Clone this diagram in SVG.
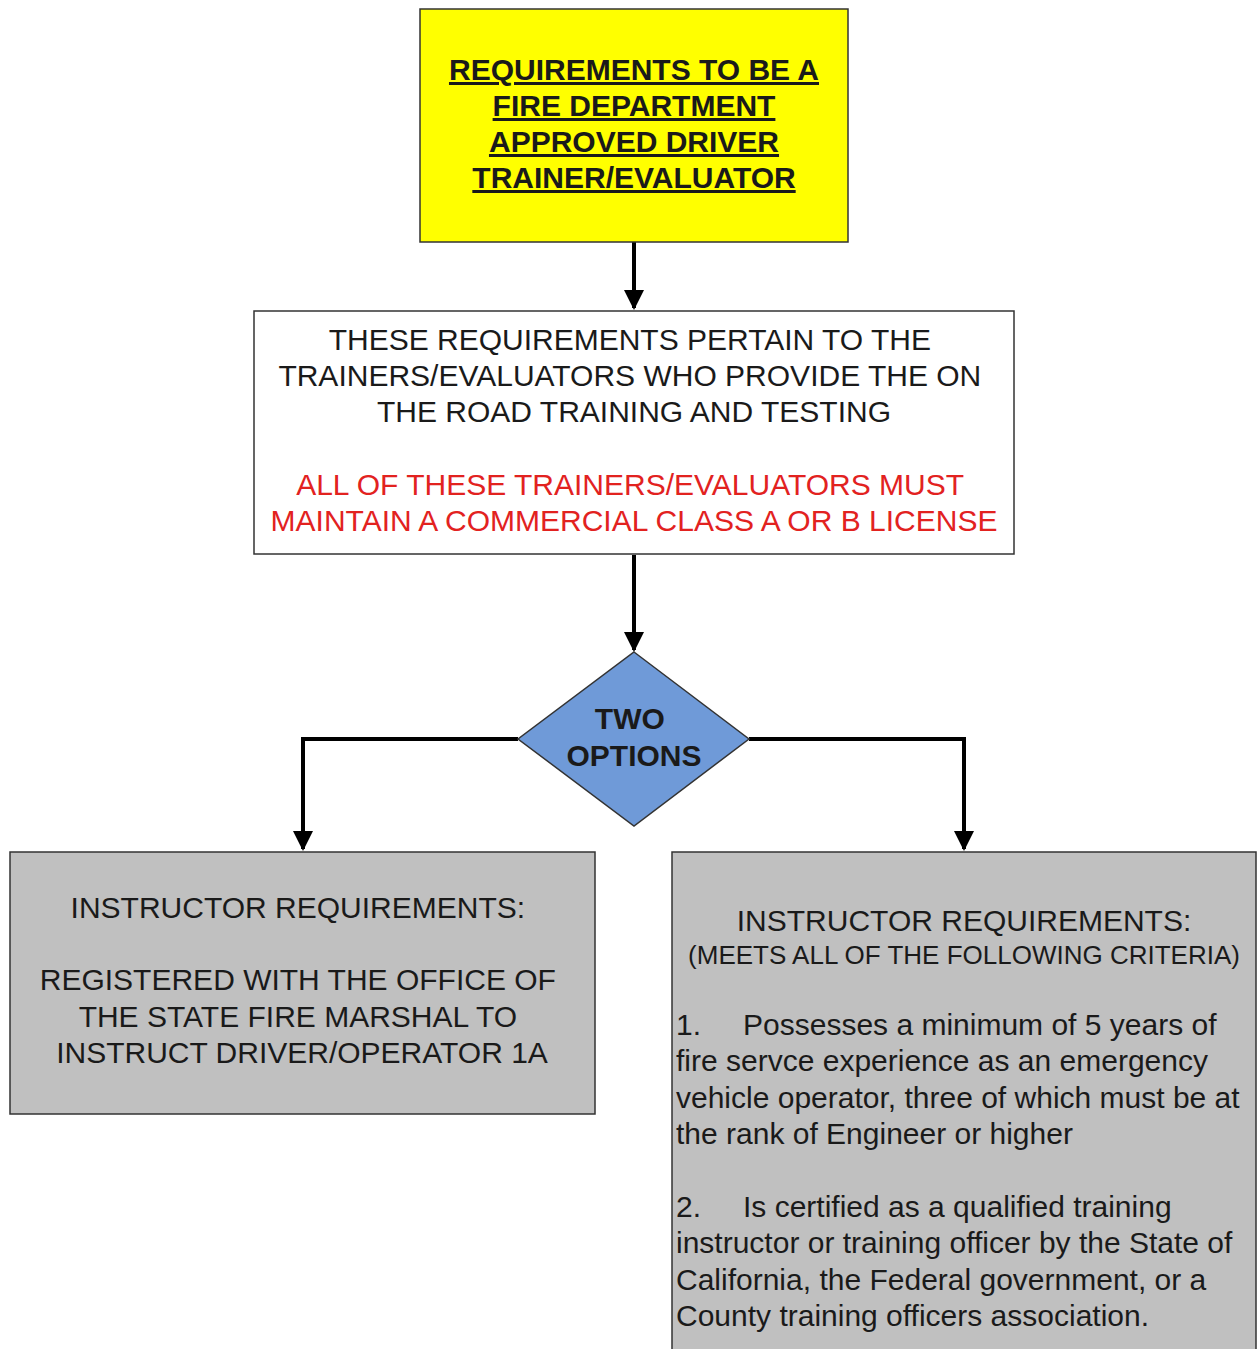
<svg xmlns="http://www.w3.org/2000/svg" width="1257" height="1349" viewBox="0 0 1257 1349">
<style>
.box{stroke:#333;stroke-width:1.5}
.t{font-family:"Liberation Sans",Arial,sans-serif;font-size:30px;fill:#1a1a1a}
.c{text-anchor:middle}
.b{font-weight:bold}
.u{text-decoration:underline}
.red{fill:#e2221f}
.con{fill:none;stroke:#000;stroke-width:4}
</style>
<defs>
<marker id="arr" viewBox="0 0 10 10" refX="9" refY="5" markerWidth="5" markerHeight="5" orient="auto" markerUnits="strokeWidth">
<path d="M0,0 L10,5 L0,10 z" fill="#000"/>
</marker>
</defs>
<rect width="1257" height="1349" fill="#fff"/>
<g id="connectors">
<path class="con" d="M634,242 V308" marker-end="url(#arr)"/>
<path class="con" d="M634,555 V650" marker-end="url(#arr)"/>
<path class="con" d="M518,739 H303 V849" marker-end="url(#arr)"/>
<path class="con" d="M749,739 H964 V849" marker-end="url(#arr)"/>
</g>
<g id="title">
<rect class="box" x="420" y="9" width="428" height="233" fill="#ffff00"/>
<text class="t c b u" x="634" y="80">REQUIREMENTS TO BE A</text>
<text class="t c b u" x="634" y="116">FIRE DEPARTMENT</text>
<text class="t c b u" x="634" y="152">APPROVED DRIVER</text>
<text class="t c b u" x="634" y="188">TRAINER/EVALUATOR</text>
</g>
<g id="pertain">
<rect class="box" x="254" y="311" width="760" height="243" fill="#fff"/>
<text class="t c">
<tspan x="634" y="350">THESE REQUIREMENTS PERTAIN TO THE</tspan>
<tspan x="634" y="386">TRAINERS/EVALUATORS WHO PROVIDE THE ON</tspan>
<tspan x="634" y="422">THE ROAD TRAINING AND TESTING</tspan>
</text>
<text class="t c red">
<tspan x="634" y="495">ALL OF THESE TRAINERS/EVALUATORS MUST</tspan>
<tspan x="634" y="531">MAINTAIN A COMMERCIAL CLASS A OR B LICENSE</tspan>
</text>
</g>
<g id="options">
<polygon class="box" points="634,652 749,739 634,826 518,739" fill="#6f9ad8"/>
<text class="t c b">
<tspan x="634" y="729">TWO</tspan>
<tspan x="634" y="766">OPTIONS</tspan>
</text>
</g>
<g id="option1">
<rect class="box" x="10" y="852" width="585" height="262" fill="#c0c0c0"/>
<text class="t c">
<tspan x="302" y="918">INSTRUCTOR REQUIREMENTS:</tspan>
<tspan x="302" y="990">REGISTERED WITH THE OFFICE OF</tspan>
<tspan x="302" y="1027">THE STATE FIRE MARSHAL TO</tspan>
<tspan x="302" y="1063">INSTRUCT DRIVER/OPERATOR 1A</tspan>
</text>
</g>
<g id="option2">
<rect class="box" x="672" y="852" width="584" height="510" fill="#c0c0c0"/>
<text class="t c">
<tspan x="964" y="931">INSTRUCTOR REQUIREMENTS:</tspan>
</text>
<text class="t c" style="font-size:26px">
<tspan x="964" y="964">(MEETS ALL OF THE FOLLOWING CRITERIA)</tspan>
</text>
<text class="t">
<tspan x="676" y="1035">1.</tspan><tspan x="743" y="1035">Possesses a minimum of 5 years of</tspan>
<tspan x="676" y="1071">fire servce experience as an emergency</tspan>
<tspan x="676" y="1108">vehicle operator, three of which must be at</tspan>
<tspan x="676" y="1144">the rank of Engineer or higher</tspan>
<tspan x="676" y="1217">2.</tspan><tspan x="743" y="1217">Is certified as a qualified training</tspan>
<tspan x="676" y="1253">instructor or training officer by the State of</tspan>
<tspan x="676" y="1290">California, the Federal government, or a</tspan>
<tspan x="676" y="1326">County training officers association.</tspan>
</text>
</g>
</svg>
